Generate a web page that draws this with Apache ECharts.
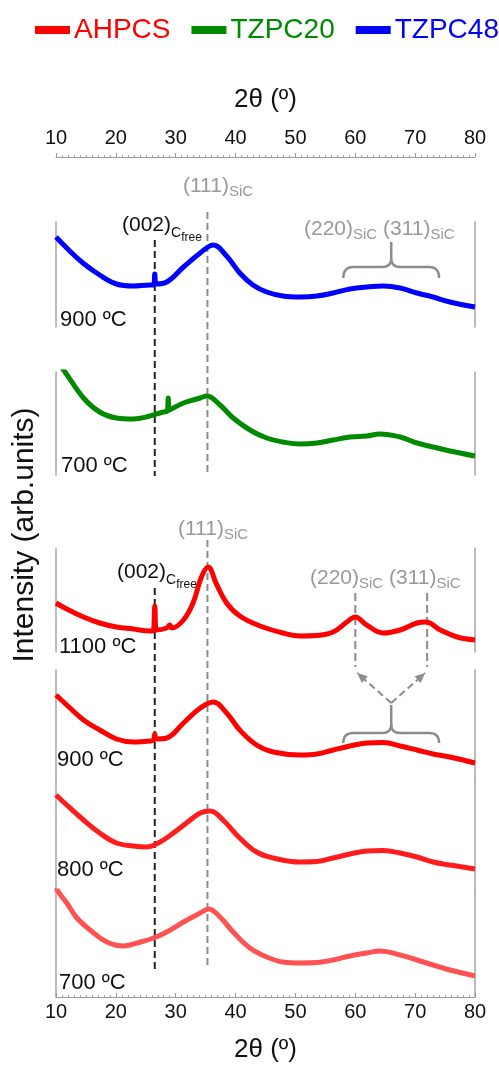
<!DOCTYPE html>
<html>
<head>
<meta charset="utf-8">
<script src="https://cdn.jsdelivr.net/npm/echarts@6/dist/echarts.min.js"></script>
<style>html,body{margin:0;padding:0;background:#fff}#c{width:499px;height:1068px}</style>
</head>
<body>
<div id="c"></div>
<script>
// ---------- data ----------
const xTicks = [10, 20, 30, 40, 50, 60, 70, 80];

const theta_TZPC48_900 = [10,11.8,14.5,17.3,20.1,22.9,25.7,26.3,26.5,26.7,28.5,31.3,34.1,36.3,38.5,40.7,42.9,45.2,47.9,50.8,53.6,56.3,59.1,61.9,64.7,67.5,70.3,73,75.8,80];
const int_TZPC48_900   = [90,79,64,52,43,41,42,42,53,43,45,60,74,82,71,54,42,35,31,30,31,34,38,40,41,39,34,30,25,20];

const theta_TZPC20_700 = [10,11.5,14.6,17.3,20.1,22.9,25.7,27.9,28.6,28.75,28.9,31.3,34.1,35.2,37.4,39.6,42.4,45.2,47.9,50.8,53.6,56.3,59.1,61.9,64.1,67.5,70.3,73,75.8,80];
const int_TZPC20_700   = [115,103,77,63,57,56,59,63,64,77,65,72,77,79,70,57,45,37,33,31,32,35,38,39,41,38,32,28,24,19];

const theta_AHPCS_1100 = [10,11.8,14.6,17.3,20.1,22.9,25.7,26.2,26.5,26.8,28.5,29,29.4,31.3,32.9,34.3,35.4,36.8,38.5,40.7,44.1,47.9,50.8,53.6,56.3,58.6,60,61.9,64.7,67.5,70.3,71.8,74.2,77,80];
const int_AHPCS_1100   = [49,43,35,29,25,23,21,21,46,22,24,27,24,32,49,75,85,68,49,36,26,19,16,16.5,20,30,35,27,19,22,29,30,22,15,12];

const theta_AHPCS_900 = [10,11.8,14.6,17.3,20.1,22.9,25.7,26.3,26.5,26.7,28.5,31.3,34.1,36.3,38.5,40.7,43.5,46.3,50.8,53.6,56.3,59.1,61.9,64.7,67.5,70.3,73,75.8,80];
const int_AHPCS_900   = [85,75,60,50,41,38,39,40,46,41,42,57,72,78,67,50,35,28,25,26,30,34,37,37.5,34,30,26,23,17];

const theta_AHPCS_800 = [10,11.8,14.6,17.3,20.1,22.9,25.1,27.4,29.6,31.8,34.1,35.8,37.9,40.7,43.5,46.3,50.8,53.6,56.3,59.1,61.9,64.7,67.5,70.3,73,75.8,80];
const int_AHPCS_800   = [96,86,71,58,48,45,44,49,58,68,78,80,71,53,39,33,29,29.5,33,37,40,40.5,38,34,29,26,22];

const theta_AHPCS_700 = [10,10.4,11.8,13.5,15.7,18.5,21.3,24.1,26.3,28.5,31.3,34.1,35.5,37.4,39.6,42.4,45.2,47.9,50.8,53.6,56.3,59.1,61.9,64.1,67.5,70.3,73,75.8,80];
const int_AHPCS_700   = [110,105,94,79,67,55,51,55,59,65,75,84,88,80,65,49,40,35,34,34.5,37,41,44,46,42,37,32,27,21];

const peakCfree = 26.5, peakSiC111 = 35.3, peakSiC220 = 60, peakSiC311 = 72;
const braceFrom = 58, braceTo = 74, braceMid = 66;

// ---------- layout ----------
const FONT = 'Liberation Sans';
const panels = [
  {name:'TZPC48', label:'900 ºC',  theta:theta_TZPC48_900, inten:int_TZPC48_900, color:'#0000ff', top:222, h:105, lx:60, ly:320},
  {name:'TZPC20', label:'700 ºC',  theta:theta_TZPC20_700, inten:int_TZPC20_700, color:'#008a00', top:372, h:103, lx:61, ly:466},
  {name:'AHPCS',  label:'1100 ºC', theta:theta_AHPCS_1100, inten:int_AHPCS_1100, color:'#ff0000', top:548, h:104, lx:59, ly:647},
  {name:'AHPCS',  label:'900 ºC',  theta:theta_AHPCS_900,  inten:int_AHPCS_900,  color:'#ff0000', top:670, h:110, lx:57, ly:760},
  {name:'AHPCS',  label:'800 ºC',  theta:theta_AHPCS_800,  inten:int_AHPCS_800,  color:'#ff1c1c', top:780, h:111, lx:57, ly:870},
  {name:'AHPCS',  label:'700 ºC',  theta:theta_AHPCS_700,  inten:int_AHPCS_700,  color:'#ff5252', top:891, h:106, lx:59, ly:983}
];

const grid = [], xAxis = [], yAxis = [], series = [];
const borderLine = {show:true, onZero:false, lineStyle:{color:'#a6a6a6', width:1.5}};
panels.forEach((p, i) => {
  grid.push({left:56, right:24, top:p.top, height:p.h, containLabel:false});
  const isTop = i === 0, isBottom = i === panels.length - 1;
  xAxis.push({
    gridIndex:i, type:'value', min:10, max:80, interval:10,
    show: isTop || isBottom,
    position: isTop ? 'top' : 'bottom',
    offset: isTop ? 65 : 0,
    axisLine:{show:true, onZero:false, lineStyle:{color:'#999', width:1}},
    axisTick:{show:true, inside:isBottom, length:4, lineStyle:{color:'#999'}},
    minorTick:{show:true, splitNumber:10, length:2, lineStyle:{color:'#aaa'}},
    splitLine:{show:false},
    axisLabel:{fontSize:20, color:'#111', fontFamily:FONT, margin: isTop ? 9 : 5,
               formatter: v => xTicks.indexOf(v) >= 0 ? String(v) : ''},
    name:'2θ (º)', nameLocation:'middle', nameGap: isTop ? 44 : 40,
    nameTextStyle:{fontSize:26, color:'#111', fontFamily:FONT}
  });
  ['left','right'].forEach(pos => yAxis.push({
    gridIndex:i, type:'value', min:0, max:p.h, position:pos,
    axisLine:borderLine, axisTick:{show:false}, axisLabel:{show:false}, splitLine:{show:false}
  }));
});

// legend colour must come from pure red series first
const order = [2, 1, 0, 3, 4, 5];
order.forEach(i => {
  const p = panels[i];
  series.push({
    name:p.name, type:'line', xAxisIndex:i, yAxisIndex:2*i,
    data:p.theta.map((t, k) => [t, p.inten[k]]),
    showSymbol:false, smooth:0.4, clip:true,
    lineStyle:{color:p.color, width:5}, itemStyle:{color:p.color},
    emphasis:{disabled:true}
  });
});

const chart = echarts.init(document.getElementById('c'), null, {renderer:'canvas'});
chart.setOption({
  animation:false,
  backgroundColor:'#fff',
  textStyle:{fontFamily:FONT},
  legend:{
    top:16, left:35, padding:0, width:470, itemWidth:35, itemHeight:8, itemGap:21, icon:'rect',
    textStyle:{fontSize:28, fontFamily:FONT, padding:[0,0,0,-1]},
    data:[
      {name:'AHPCS',  textStyle:{color:'#ff0000'}},
      {name:'TZPC20', textStyle:{color:'#008a00'}},
      {name:'TZPC48', textStyle:{color:'#0000ff'}}
    ]
  },
  grid, xAxis, yAxis, series
});

// ---------- annotations ----------
const px = v => chart.convertToPixel({xAxisIndex:0}, v);
const ctx = document.createElement('canvas').getContext('2d');
const widthOf = (t, s) => { ctx.font = s + 'px "' + FONT + '"'; return ctx.measureText(t).width; };
const g = [];
function chain(x, y, parts, color) {
  let cx = x;
  parts.forEach(([t, s, dy]) => {
    g.push({type:'text', x:cx, y:y + dy, silent:true,
      style:{text:t, fontSize:s, fontFamily:FONT, fill:color, align:'left', verticalAlign:'middle'}});
    cx += widthOf(t, s);
  });
}
function vdash(x, y1, y2, color, dash) {
  g.push({type:'line', silent:true, shape:{x1:x, y1:y1, x2:x, y2:y2},
    style:{stroke:color, lineWidth:2, lineDash:dash || [7,4]}});
}
function quad(p0, c, p1, n) {
  const out = [];
  for (let k = 0; k <= n; k++) {
    const t = k / n, a = (1 - t) * (1 - t), b = 2 * (1 - t) * t, d = t * t;
    out.push([a * p0[0] + b * c[0] + d * p1[0], a * p0[1] + b * c[1] + d * p1[1]]);
  }
  return out;
}
function brace(x1, x2, xc, yEnd, yH, yTip) {
  const left = [].concat(
    quad([x1, yEnd], [x1, yH], [x1 + 10, yH], 8),
    quad([xc - 9, yH], [xc, yH], [xc, yH - 9], 8),
    [[xc, yTip]]
  );
  const right = [].concat(
    quad([xc, yH - 9], [xc, yH], [xc + 9, yH], 8),
    quad([x2 - 10, yH], [x2, yH], [x2, yEnd], 8)
  );
  [left, right].forEach(pts => g.push({type:'polyline', silent:true, shape:{points:pts},
    style:{fill:null, stroke:'#8c8c8c', lineWidth:2.5}}));
}
function arrow(xa, ya, xb, yb) {
  g.push({type:'line', silent:true, shape:{x1:xa, y1:ya, x2:xb, y2:yb},
    style:{stroke:'#8c8c8c', lineWidth:2, lineDash:[7,4]}});
  const L = Math.hypot(xb - xa, yb - ya), ux = (xb - xa) / L, uy = (yb - ya) / L;
  const bx = xb - ux * 10, by = yb - uy * 10;
  g.push({type:'polygon', silent:true, shape:{points:[[xb, yb], [bx - uy * 4.5, by + ux * 4.5], [bx + uy * 4.5, by - ux * 4.5]]},
    style:{fill:'#8c8c8c'}});
}

const GRAY = '#999999', BLACK = '#111111';
// top group (TZPC)
vdash(px(peakSiC111), 212, 476, '#8c8c8c');
vdash(px(peakCfree), 240, 476, '#222');
chain(183, 186, [['(111)',21,0],['SiC',15,6]], GRAY);
chain(122, 225, [['(002)',21,0],['C',14,8],['free',12,13]], BLACK);
chain(304, 229, [['(220)',21,0],['SiC',15,6],[' (311)',21,0],['SiC',15,6]], GRAY);
brace(px(braceFrom), px(braceTo), px(braceMid), 278, 267, 242);

// bottom group (AHPCS)
vdash(px(peakSiC111), 540, 969, '#8c8c8c');
vdash(px(peakCfree), 588, 969, '#222');
chain(178, 529, [['(111)',21,0],['SiC',15,6]], GRAY);
chain(117, 572, [['(002)',21,0],['C',14,8],['free',12,13]], BLACK);
chain(310, 578, [['(220)',21,0],['SiC',15,6],[' (311)',21,0],['SiC',15,6]], GRAY);
vdash(px(peakSiC220), 593, 667, '#8c8c8c', [8,4]);
vdash(px(peakSiC311), 593, 667, '#8c8c8c', [8,4]);
arrow(px(braceMid), 703, px(peakSiC220) + 2, 673);
arrow(px(braceMid), 703, px(peakSiC311) - 2, 673);
brace(px(braceFrom), px(braceTo), px(braceMid), 743, 733, 705);

// temperature labels
panels.forEach(p => g.push({type:'text', x:p.lx, y:p.ly, silent:true,
  style:{text:p.label, fontSize:22, fontFamily:FONT, fill:BLACK, align:'left', verticalAlign:'middle'}}));

// y title
g.push({type:'text', x:25, y:535, rotation:Math.PI/2, silent:true,
  style:{text:'Intensity (arb.units)', fontSize:30, fontFamily:FONT, fill:BLACK, align:'center', verticalAlign:'middle'}});

chart.setOption({graphic:g});
</script>
</body>
</html>
